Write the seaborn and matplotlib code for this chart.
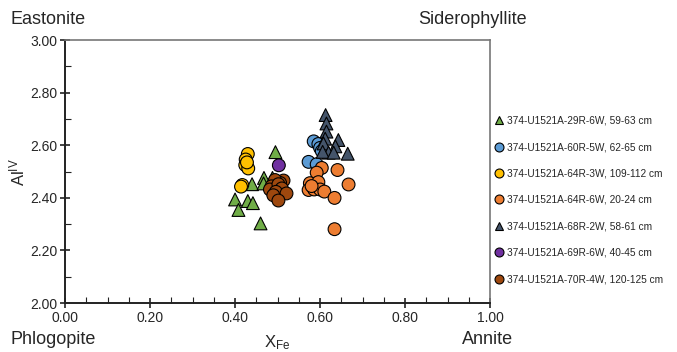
import numpy as np
import pandas as pd
import matplotlib
matplotlib.use('Agg')
import matplotlib.pyplot as plt
import seaborn as sns
from matplotlib.ticker import MultipleLocator


# Sample names (legend order)
samples = ['374-U1521A-29R-6W, 59-63 cm',
           '374-U1521A-60R-5W, 62-65 cm',
           '374-U1521A-64R-3W, 109-112 cm',
           '374-U1521A-64R-6W, 20-24 cm',
           '374-U1521A-68R-2W, 58-61 cm',
           '374-U1521A-69R-6W, 40-45 cm',
           '374-U1521A-70R-4W, 120-125 cm']

# XFe / Al(IV)
x_29R = [0.495, 0.440, 0.468, 0.467, 0.488, 0.400, 0.430, 0.442, 0.408, 0.460]
y_29R = [2.574, 2.452, 2.476, 2.455, 2.476, 2.394, 2.388, 2.380, 2.354, 2.303]

x_60R = [0.585, 0.596, 0.600, 0.604, 0.573, 0.592]
y_60R = [2.615, 2.605, 2.590, 2.578, 2.537, 2.528]

x_64R3 = [0.430, 0.425, 0.424, 0.431, 0.428, 0.417, 0.414]
y_64R3 = [2.567, 2.546, 2.525, 2.512, 2.535, 2.449, 2.443]

x_64R6 = [0.604, 0.592, 0.641, 0.576, 0.596, 0.573, 0.586, 0.600, 0.610, 0.667, 0.634, 0.634, 0.580]
y_64R6 = [2.514, 2.496, 2.506, 2.456, 2.460, 2.430, 2.432, 2.432, 2.424, 2.451, 2.400, 2.281, 2.445]

x_68R = [0.613, 0.615, 0.615, 0.612, 0.608, 0.643, 0.636, 0.620, 0.606, 0.632, 0.665]
y_68R = [2.715, 2.683, 2.652, 2.625, 2.607, 2.620, 2.596, 2.572, 2.575, 2.572, 2.568]

x_69R = [0.503]
y_69R = [2.524]

x_70R = [0.514, 0.506, 0.494, 0.486, 0.482, 0.502, 0.510, 0.496, 0.521, 0.490, 0.502]
y_70R = [2.466, 2.457, 2.468, 2.444, 2.432, 2.452, 2.436, 2.423, 2.417, 2.410, 2.390]

colors = ['#70ad47', '#5b9bd5', '#ffc000', '#ed7d31', '#44546a', '#7030a0', '#9e480e']
markers = ['^', 'o', 'o', 'o', '^', 'o', 'o']

# build a long data frame
xs = [x_29R, x_60R, x_64R3, x_64R6, x_68R, x_69R, x_70R]
ys = [y_29R, y_60R, y_64R3, y_64R6, y_68R, y_69R, y_70R]
frames = []
for name, x, y in zip(samples, xs, ys):
    frames.append(pd.DataFrame({'XFe': x, 'AlIV': y, 'Sample': name}))
df = pd.concat(frames, ignore_index=True)

sns.set_style('white')
plt.rcParams['font.family'] = ['Liberation Sans', 'DejaVu Sans']
plt.rcParams['mathtext.fontset'] = 'custom'
plt.rcParams['mathtext.rm'] = 'Liberation Sans'
plt.rcParams['mathtext.it'] = 'Liberation Sans'

fig = plt.figure(figsize=(6.77, 3.52), dpi=100)
ax = fig.add_axes([0.096, 0.139, 0.628, 0.747])

sns.scatterplot(data=df, x='XFe', y='AlIV', hue='Sample', style='Sample',
                hue_order=samples, style_order=samples,
                palette=dict(zip(samples, colors)),
                markers=dict(zip(samples, markers)),
                s=85, edgecolor='black', linewidth=0.8, ax=ax, zorder=3)

ax.set_xlim(0, 1)
ax.set_ylim(2.0, 3.0)
ax.xaxis.set_major_locator(MultipleLocator(0.2))
ax.xaxis.set_minor_locator(MultipleLocator(0.05))
ax.yaxis.set_major_locator(MultipleLocator(0.2))
ax.yaxis.set_minor_locator(MultipleLocator(0.1))
ax.xaxis.set_major_formatter(matplotlib.ticker.FormatStrFormatter('%.2f'))
ax.yaxis.set_major_formatter(matplotlib.ticker.FormatStrFormatter('%.2f'))
ax.tick_params(which='major', direction='inout', length=7, width=1.2, color='#222222',
               labelsize=10, pad=2, bottom=True, left=True)
ax.tick_params(which='minor', direction='in', length=4, width=0.8, color='#222222',
               bottom=True, left=True)

for side in ['left', 'bottom']:
    ax.spines[side].set_color('#222222')
    ax.spines[side].set_linewidth(1.4)
for side in ['top', 'right']:
    ax.spines[side].set_color('#777777')
    ax.spines[side].set_linewidth(1.2)

ax.set_xlabel('X$_{Fe}$', fontsize=12, labelpad=6)
ax.set_ylabel('Al$^{IV}$', fontsize=12, labelpad=2)

# end-member names at the corners
fig.text(10 / 677, 1 - 20 / 352, 'Eastonite', fontsize=13, va='center', ha='left')
fig.text(418 / 677, 1 - 20 / 352, 'Siderophyllite', fontsize=13, va='center', ha='left')
fig.text(10 / 677, 1 - 340 / 352, 'Phlogopite', fontsize=13, va='center', ha='left')
fig.text(462 / 677, 1 - 340 / 352, 'Annite', fontsize=13, va='center', ha='left')

leg = ax.legend(loc='upper left', bbox_to_anchor=(1.0, 0.728), frameon=False,
                fontsize=7.3, labelspacing=1.62, handletextpad=0.3,
                handlelength=1.0, markerscale=0.7, borderaxespad=0)

fig.savefig('out.png', dpi=100)
